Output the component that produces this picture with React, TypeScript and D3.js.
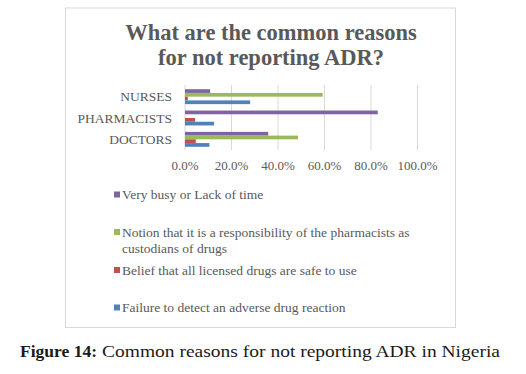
import React from 'react'
import * as d3 from 'd3'

// categories bottom to top as in the source chart
const categories = ['DOCTORS', 'PHARMACISTS', 'NURSES']
const failure = [10.5, 12.5, 28.0]
const belief = [4.6, 4.3, 1.2]
const notion = [48.6, 0, 59.2]
const busy = [35.8, 82.9, 10.8]
const ticks = [0, 20, 40, 60, 80, 100]

const seriesNames = [
  'Very busy or Lack of time',
  'Notion that it is a responsibility of the pharmacists as custodians of drugs',
  'Belief that all licensed drugs are safe to use',
  'Failure to detect an adverse drug reaction',
]
const seriesValues = [busy, notion, belief, failure]
const colors = ['#8064A2', '#9BBB59', '#C0504D', '#4F81BD']

const W = 526
const H = 374
const serif = { fontFamily: "'Liberation Serif'" }

export default function App () {
  const x = d3.scaleLinear().domain([0, 100]).range([185, 417.5])
  const y = d3.scaleBand<string>()
    .domain(categories.slice().reverse())
    .range([86, 150])
    .paddingInner(0.3)
    .paddingOuter(0.15)
  const inner = d3.scaleBand<number>()
    .domain(d3.range(seriesNames.length))
    .range([0, y.bandwidth()])

  // legend rows, wrapped by hand like the original
  const legendRows = [
    { i: 0, lines: ['Very busy or Lack of time'], y: 199 },
    { i: 1, lines: ['Notion that it is a responsibility of the pharmacists as', 'custodians of drugs'], y: 236.5 },
    { i: 2, lines: ['Belief that all licensed drugs are safe to use'], y: 274.5 },
    { i: 3, lines: ['Failure to detect an adverse drug reaction'], y: 312 },
  ]

  return (
    <svg width={W} height={H} style={{ position: 'absolute', left: 0, top: 0, background: '#fff' }}>
      <rect x={65.5} y={8} width={390} height={319.5} fill="#fff" stroke="#d9d9d9" strokeWidth={1} />

      <text x={271} y={40} textAnchor="middle" style={serif} fontWeight="bold" fontSize={22.5} fill="#595959">
        What are the common reasons
      </text>
      <text x={271} y={65} textAnchor="middle" style={serif} fontWeight="bold" fontSize={22.5} fill="#595959">
        for not reporting ADR?
      </text>

      {ticks.map(t => (
        <g key={t}>
          <line x1={x(t)} x2={x(t)} y1={85} y2={150} stroke="#d9d9d9" strokeWidth={1} />
          <text x={x(t)} y={169.5} textAnchor="middle" style={serif} fontSize={13} fill="#595959">
            {d3.format('.1f')(t) + '%'}
          </text>
        </g>
      ))}

      {categories.map((c, ci) => (
        <g key={c}>
          <text x={172} y={(y(c) ?? 0) + y.bandwidth() / 2 + 4.5} textAnchor="end"
            style={serif} fontSize={13.5} fill="#595959">{c}</text>
          {seriesValues.map((vals, si) => (
            <rect key={si}
              x={x(0)}
              y={(y(c) ?? 0) + (inner(si) ?? 0)}
              width={x(vals[ci]) - x(0)}
              height={inner.bandwidth()}
              fill={colors[si]} />
          ))}
        </g>
      ))}

      {legendRows.map(r => (
        <g key={r.i}>
          <rect x={114} y={r.y - 7.5} width={6} height={6} fill={colors[r.i]} />
          {r.lines.map((l, li) => (
            <text key={li} x={122} y={r.y + li * 16.5} style={serif} fontSize={13.5} fill="#595959">{l}</text>
          ))}
        </g>
      ))}

      <text x={20} y={357} style={serif} fontSize={17} fontWeight="bold" fill="#1a1a1a"
        textLength={77} lengthAdjust="spacingAndGlyphs">Figure 14:</text>
      <text x={102} y={357} style={serif} fontSize={17} fill="#1a1a1a"
        textLength={398} lengthAdjust="spacingAndGlyphs">Common reasons for not reporting ADR in Nigeria</text>
    </svg>
  )
}
